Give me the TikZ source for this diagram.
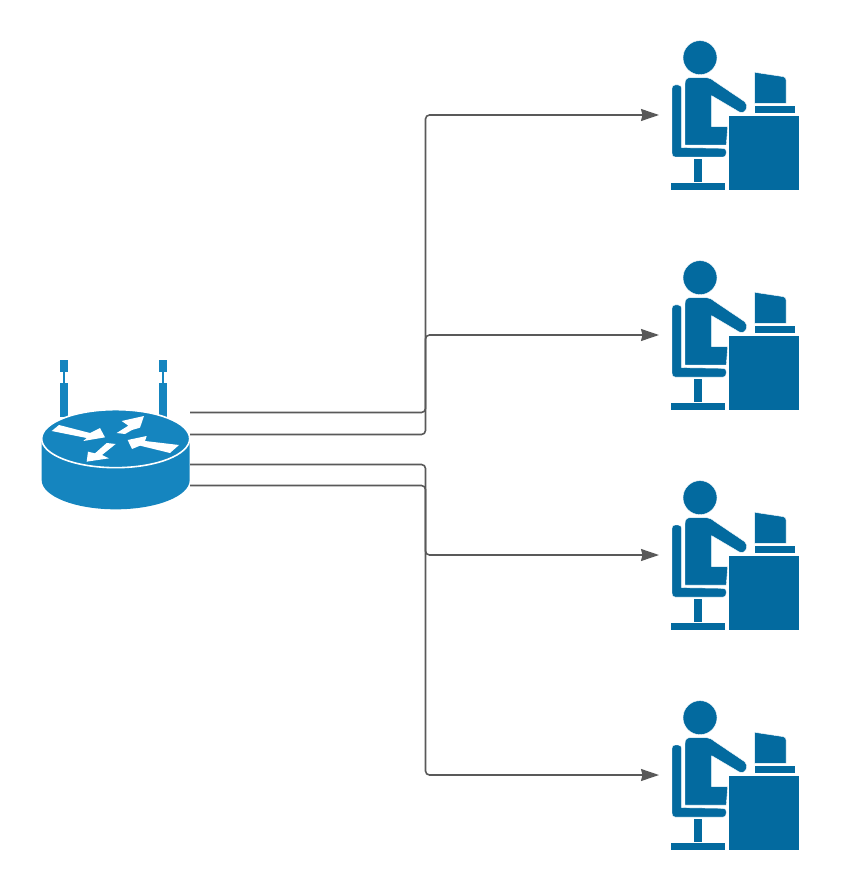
\documentclass[tikz,border=0pt]{standalone}
\usepackage{tikz}
\usetikzlibrary{arrows.meta}
\definecolor{iconblue}{HTML}{036A9F}
\definecolor{routerblue}{HTML}{1585BF}
\definecolor{linkgray}{HTML}{595959}
\begin{document}
\begin{tikzpicture}[x=1pt,y=-1pt,>={Stealth[length=18pt,width=12pt,inset=1.5pt]}]
 \tikzstyle{link} = [draw=linkgray,line width=1.6pt,rounded corners=4pt]
 \tikzstyle{iconpart} = [fill=iconblue,draw=white,line width=0.4pt,line join=round]
 \tikzstyle{routerpart} = [fill=routerblue,draw=none]
 \tikzstyle{routerarrow} = [fill=white,draw=none]
 \newcommand{\usericon}[1]{
  \begin{scope}[shift={(660,#1)},scale=1/3]
   \fill[iconpart] (120,83) circle[radius=51];
   \path[iconpart] (90,143) -- (140,143) .. controls (150,143) and (155,148) .. (165,155) -- (254,215) .. controls (268,226) and (258,254) .. (238,246) -- (155,197) -- (155,290) -- (203,290) -- (199,345) -- (75,345) -- (75,160) .. controls (75,150) and (80,143) .. (90,143) -- cycle;
   \path[iconpart] (45,165) -- (55,165) .. controls (62,165) and (65,170) .. (65,178) -- (65,353) -- (190,355) .. controls (197,355) and (199,360) .. (199,367) .. controls (199,376) and (196,381) .. (190,381) -- (45,381) .. controls (39,381) and (36,376) .. (36,370) -- (36,175) .. controls (36,169) and (39,165) .. (45,165) -- cycle;
   \path[iconpart] (100,385) rectangle (127,458);
   \path[iconpart] (32,458) rectangle (195,480);
   \path[iconpart] (205,256) rectangle (418,480);
   \path[iconpart] (282,226) rectangle (405,250);
   \path[iconpart] (284,127) -- (370,140) .. controls (376,141) and (378,145) .. (378,150) -- (378,220) -- (284,220) -- cycle;
  \end{scope}
 }

% Router
 \begin{scope}[shift={(30,350)},scale=1/3]
  \foreach \ax in {91,387} {
   \path[routerpart] (\ax,30) rectangle ++(23,35);
   \path[routerpart] (\ax+9,65) rectangle ++(5,35);
   \path[routerpart] (\ax,100) rectangle ++(23,100);
  }
  \path[routerpart] (35,265) -- (35,390) arc[start angle=180,end angle=0,x radius=222,y radius=88] -- (479,265) -- cycle;
  \path[fill=routerblue,draw=white,line width=1.6pt] (257,266) ellipse[x radius=222,y radius=87];
  \path[routerarrow] (65,243) -- (87,225) -- (180,249) -- (210,234) -- (225,262) -- (160,273) -- (170,264) -- cycle;
  \path[routerarrow] (260,249) -- (295,227) -- (275,213) -- (342,198) -- (330,233) -- (306,240) -- (285,252) -- cycle;
  \path[routerarrow] (447,285) -- (420,309) -- (330,287) -- (306,297) -- (293,270) -- (350,258) -- (345,273) -- cycle;
  \path[routerarrow] (257,282) -- (216,315) -- (237,325) -- (170,335) -- (174,305) -- (195,310) -- (230,279) -- cycle;
 \end{scope}

% Users
 \usericon{30}
 \usericon{250}
 \usericon{470}
 \usericon{690}

% Connectors
 \coordinate (r1) at (190,412.5);
 \coordinate (r2) at (190,434.5);
 \coordinate (r3) at (190,464.5);
 \coordinate (r4) at (190,485.5);
 \coordinate (u1) at (659,115);
 \coordinate (u2) at (659,335);
 \coordinate (u3) at (659,555);
 \coordinate (u4) at (659,775);
 \coordinate (b1) at (425.5,115);
 \coordinate (b2) at (425.5,335);
 \coordinate (b3) at (425.5,555);
 \coordinate (b4) at (425.5,775);
 \foreach \i in {1,...,4} {
  \draw[link,->] (r\i) -| (b\i) -- (u\i);
 }
 \useasboundingbox (0,0) rectangle (850,890);
\end{tikzpicture}
\end{document}
